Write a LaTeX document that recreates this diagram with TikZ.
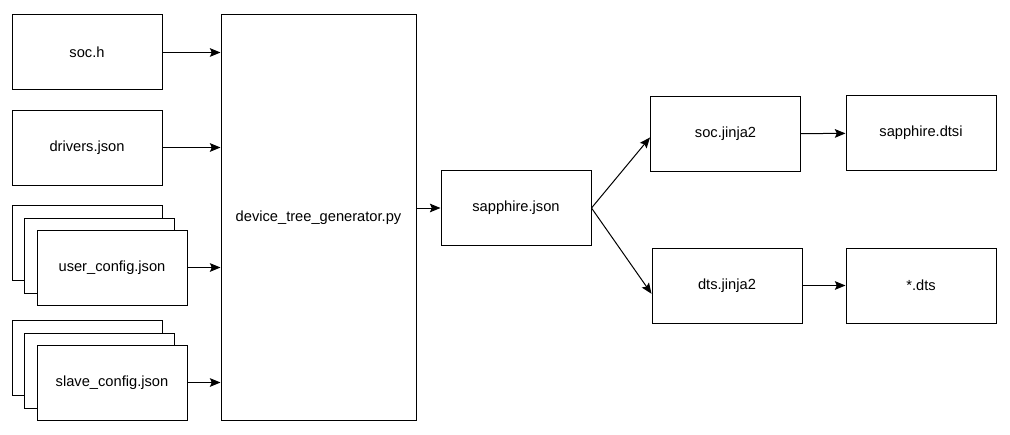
\documentclass[tikz,border=0pt]{standalone}
\usepackage{fontspec}
\setmainfont{Liberation Sans}
\usetikzlibrary{arrows.meta}
\begin{document}
\begin{tikzpicture}[x=0.75pt, y=-0.75pt, line width=0.75pt, >={Stealth[length=8pt,width=6.5pt,inset=1.5pt]},
	every node/.style={draw, fill=white, line width=0.75pt, minimum width=112.5pt, minimum height=56.25pt, inner sep=0pt, font=\fontsize{11}{13}\selectfont}]
			\useasboundingbox (0,0) rectangle (1010,435);
			\node (soch) at (87,52.5) {soc.h};
			\node (drv) at (87,147.5) {drivers.json};
			\node (ucfgc) at (87,243) {};
			\node (ucfgb) at (99.5,255.5) {};
			\node (ucfg) at (112,267.5) {user\_config.json};
			\node (scfgc) at (87,358) {};
			\node (scfgb) at (99.5,370.5) {};
			\node (scfg) at (112,382.5) {slave\_config.json};
			\node [minimum width=146.25pt, minimum height=303.75pt] (gen) at (318.5,217.5) {device\_tree\_generator.py};
			\node (sjson) at (516,208) {sapphire.json};
			\node (socj) at (725.5,134) {soc.jinja2};
			\node (dtsi) at (921,133) {sapphire.dtsi};
			\node (dtsj) at (727,285.5) {dts.jinja2};
			\node (dts) at (921,285.5) {*.dts};
			\draw[->] (soch) -- (soch -| gen.west);
			\draw[->] (drv) -- (drv -| gen.west);
			\draw[->] (ucfg) -- (ucfg -| gen.west);
			\draw[->] (scfg) -- (scfg -| gen.west);
			\draw[->] (gen.east |- sjson) -- (sjson);
			\draw[->] (sjson.east) -- ([yshift=-2.6pt]socj.west);
			\draw[->] (sjson.east) -- ([yshift=-6.2pt]dtsj.west);
			\draw[->] (socj) -- (dtsi);
			\draw[->] (dtsj) -- (dts);
		\end{tikzpicture}
\end{document}
